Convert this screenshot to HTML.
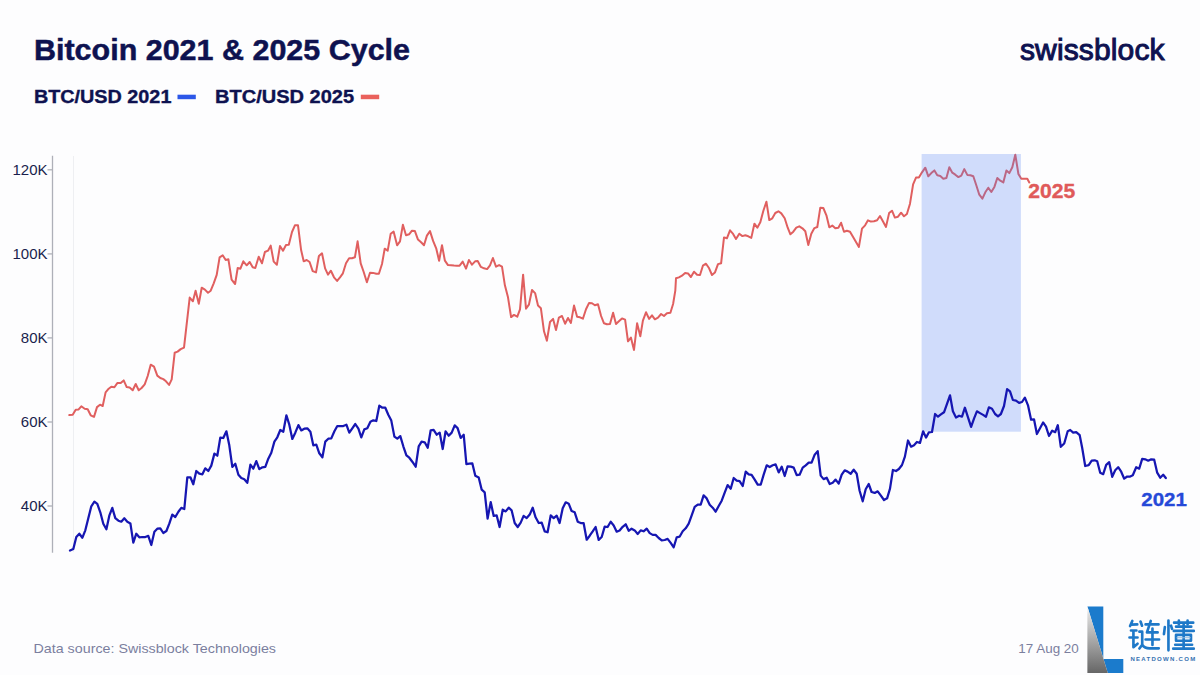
<!DOCTYPE html>
<html><head><meta charset="utf-8"><title>Bitcoin 2021 &amp; 2025 Cycle</title>
<style>
html,body{margin:0;padding:0;background:#fdfdfe;}
body{width:1200px;height:675px;overflow:hidden;position:relative;font-family:"Liberation Sans",sans-serif;}
svg{position:absolute;left:0;top:0;display:block;}
svg text{font-family:"Liberation Sans",sans-serif;}
.t{font-weight:bold;font-size:30px;fill:#0e1250;stroke:#0e1250;stroke-width:0.5px;}
.lg{font-weight:bold;font-size:18.3px;fill:#0e1250;stroke:#0e1250;stroke-width:0.35px;}
.ax{font-size:15px;fill:#1a1f4d;}
.ft{font-size:13px;fill:#7b7f9e;}
</style></head>
<body>
<svg width="1200" height="675" viewBox="0 0 1200 675">
  <!-- title -->
  <text class="t" x="34" y="60.3" textLength="376" lengthAdjust="spacingAndGlyphs">Bitcoin 2021 &amp; 2025 Cycle</text>
  <!-- logo -->
  <text x="1020" y="60" textLength="144.5" lengthAdjust="spacing" style="font-size:30px;fill:#0e1250;stroke:#0e1250;stroke-width:1px">swissblock</text>
  <!-- legend -->
  <text class="lg" x="33.9" y="103.3" textLength="137.5" lengthAdjust="spacingAndGlyphs">BTC/USD 2021</text>
  <rect x="177.5" y="94.7" width="18.3" height="4.5" fill="#2c57e8"/>
  <text class="lg" x="215.1" y="103.3" textLength="139" lengthAdjust="spacingAndGlyphs">BTC/USD 2025</text>
  <rect x="360.8" y="94.7" width="18.4" height="4.5" fill="#ea615c"/>

  <!-- axis -->
  <line x1="52.5" y1="155.8" x2="52.5" y2="552.7" stroke="#aeb0b8" stroke-width="1.3"/>
  <line x1="73.5" y1="156" x2="73.5" y2="552" stroke="#eeeff2" stroke-width="1"/>
  <g stroke="#aeb0b8" stroke-width="1.3">
    <line x1="47.5" y1="169.8" x2="52.5" y2="169.8"/>
    <line x1="47.5" y1="253.9" x2="52.5" y2="253.9"/>
    <line x1="47.5" y1="337.9" x2="52.5" y2="337.9"/>
    <line x1="47.5" y1="422" x2="52.5" y2="422"/>
    <line x1="47.5" y1="506" x2="52.5" y2="506"/>
  </g>
  <g class="ax" text-anchor="end">
    <text x="47.5" y="175.1">120K</text>
    <text x="47.5" y="259.2">100K</text>
    <text x="47.5" y="343.2">80K</text>
    <text x="47.5" y="427.3">60K</text>
    <text x="47.5" y="511.3">40K</text>
  </g>

  <!-- lines -->
  <polyline fill="none" stroke="#e05f5f" stroke-width="2" stroke-linejoin="round" stroke-linecap="round" points="69.3,415.1 72.7,414.8 75.7,409.7 78.4,409.6 81.3,406.3 84.7,408.7 87.7,409.3 90.7,415.3 94,416.9 97,407.1 100,404.7 102.7,406 105.6,392.4 108.7,388.7 111.3,386.7 114.4,387.3 117.3,383.1 120.7,383.1 123.7,380.4 126.7,387.1 129.6,387.6 132.7,390.3 135.7,384 138.7,390.3 141.6,388 144.7,384.4 147.7,376 150.7,364.7 154,366.7 157.3,375.6 160.3,378 163.3,379.1 166,381.3 169.1,384.9 171.7,379.3 174.7,352.7 177.6,351.6 180.7,349.1 184,347.6 189.7,297.6 192.9,301.3 195.6,290.7 198.8,303.7 201.7,287.7 204.9,289.6 208,292.7 210.7,290.7 213.7,283.3 216.7,274.9 219.6,257.3 222.7,255.3 225.7,260 228.4,259.3 231.6,279.7 235.1,284 237.7,268 240.4,268.7 243.3,261.3 246.7,265.3 249.7,262 252.7,267.3 255.3,268 258.7,256.7 262,263.3 264.9,252 268,250.7 270.7,245.6 273.7,261.6 276.9,264.7 280,246 283,250.7 286,245 288.8,244.8 292,232 294.9,225.3 298,225.3 301.1,250 303.7,261.3 306.7,260 309.6,262 312.7,271.1 316,272.4 318.9,256 322,253.3 325.1,268.4 328,274.7 330.9,270.7 334,277.3 337.1,280.9 340,277.3 342.9,273.3 346,263.3 349.1,258.3 352,258.3 354.9,257.3 357.6,241.3 360.7,263.3 363.7,272 366.9,282.3 370,272.7 373.1,272.9 376.3,273.7 378.9,273.7 382,264 384.7,248.7 387.7,250.7 390.7,233.7 393.6,231.6 397.1,245.3 400,241.3 402.9,224.7 406,235.3 409.1,234.3 412,230.7 414.9,231.1 418,239.6 421.1,242.3 424,245.3 426.9,235.6 430,231.1 433.1,240.9 436.3,248.7 439.1,260.7 442,245.3 444.9,260.7 448,265.1 451.1,265.3 454,265.6 456.7,265.7 459.6,265.7 462.7,261.6 466,268.7 468.9,260 472,264.7 475.1,261.3 477.7,261.1 480.9,266.9 484,268.3 487.1,269.1 490,265.3 492.9,258 496,266.7 499.1,265.1 502,266.7 504.9,285.3 508,297.3 511.1,317.1 514,314.9 517.3,316.7 520,309.3 523.1,274.7 526,308.7 528.9,304.7 532,290 535.1,293.1 538,305.6 540.9,308.3 544,331.3 546.9,340.7 550,322 553.1,318.9 556,330 558.9,317.6 562,316 565.1,323.7 568,318 570.9,322.9 574,305.6 577.1,316.7 580,317.3 582.9,318.7 586,309.3 589.1,302.9 592,303.3 594.9,305.3 598,304.3 601.1,316 604,323.3 606.9,324.3 610,324 613.1,312.7 616,324 618.9,321.3 622,318.4 625.1,319.7 628,341.3 630.9,337.6 634,350 637.1,323.3 640.3,336.3 642.9,320.7 646,312.3 649.1,318.9 652,315.3 654.9,319.3 658,317.6 661.1,314 664,316 666.9,313.3 670.4,312.7 673.1,304 675.3,290.7 676,278.3 678.9,277.4 682,275.7 685.1,273 688,273.4 690.9,277 694,271.7 697.1,274.7 700,275 702.9,265.7 706,263.7 709.1,268.3 712,275 714.9,272.6 718,264.1 721.1,263.3 724,237.4 726.9,238.3 730,230.3 733.1,233.9 736,239 739.3,233.7 742.4,236.1 745.3,235.3 748.3,236.3 751.3,237.9 754.4,223.7 757.3,227.7 760.3,222.3 763.3,211 766.4,201.7 769.3,220.1 772.3,218.3 775.3,213 778.4,211.3 781.3,213.4 784.7,218.3 787.7,227.7 790.4,234.3 793.3,231.7 796.3,227.7 799.3,226.3 802.4,228.3 805.3,231.3 808.3,245 811.3,233.7 814.4,228.1 817.3,227 820.3,207.7 823.3,208 826.4,215.3 829.3,227.3 832.3,225.6 835.3,228.3 838.4,227.7 841.1,222.7 844,231.7 846.9,230.7 850,231.7 853.1,237.1 856,242 858.9,246.9 862,228.7 865.1,225.3 868,220.3 870.9,221.6 874,221.3 877.1,220.3 880,216 882.9,221.3 886,226.9 889.1,213.1 892,210.7 894.9,217.6 898,216.7 901.1,212.7 904,216.3 906.9,214 910,203.7 913.1,184.3 916,177.6 918.9,177.6 922,172.3 925.3,167.7 928.3,176.3 931.3,173.1 934.4,170.4 937.3,175.3 940.3,176 943.3,178.7 946.4,178 949.3,167.3 952.3,172.7 955.3,174.7 958.4,177.1 961.3,175.7 964.3,169.1 967.3,174.9 970.4,175.3 973.3,176.3 976.3,185.3 979.3,194.7 982.4,198.7 985.3,192.3 988.3,187.7 991.3,192 994.4,186.9 997.3,178 1000.3,180.7 1003.3,182.4 1006.4,170.4 1009.3,173.1 1012.3,167.3 1015.3,154.7 1018.4,174 1021.3,178.7 1024.3,178.7 1027.3,178.7 1029.3,182.4"/>
  <rect x="921.6" y="154" width="99.3" height="277.7" fill="#5080f5" fill-opacity="0.26"/>
  <polyline fill="none" stroke="#1616b2" stroke-width="2.25" stroke-linejoin="round" stroke-linecap="round" points="70,550.6 73.3,549 76.3,537 79.3,533.7 82.4,537.7 85.3,530.3 88.3,518.3 91.3,506.3 94.4,501.7 97.3,503.9 100.3,512.3 103.3,523.7 106.4,529.3 109.3,515.7 112.3,507.9 115.3,518.1 118.4,520.7 121.3,521.7 124.3,518.3 127.3,521.7 130.4,523.4 133.3,542.6 136.3,533.7 139.3,537.3 142.4,537 145.3,537 148.3,535.9 151.3,545 154.4,531.7 157.3,528.7 160.3,528.3 163.3,533 166.4,531 169.3,523.7 172.3,514.6 175.3,517 178.4,511.7 181.3,507.9 184.3,509 187.3,477.3 190.4,477.3 193.3,484.3 196.3,471 199.3,473.7 202.4,474.3 205.3,468.3 208.3,471 211.3,465.6 214.4,453.6 217.3,455.7 220.3,437.6 223.3,438 226.4,431.3 229.3,445.3 232.3,466.9 235.3,463.7 238.4,474.7 241.3,478 244.3,479.3 247.3,482.9 250.4,464.7 253.3,468.7 256.3,461.1 259.3,469.1 262.4,467.3 265.3,466.9 268.3,458.7 271.3,452.7 274.4,441.6 277.3,437.3 280.3,430 283.3,431.7 286.4,415.3 289.3,424.7 292.3,438.9 295.3,432.7 298.4,425.1 301.3,430.4 304.3,428.7 307.3,428.3 310.4,431.7 313.3,445.3 316.3,444.7 319.3,453.3 322.4,457.3 325.3,441.6 328.3,438.7 331.3,438.4 334.4,431.3 337.3,426 340.3,426 343.3,426 346.4,424.7 349.3,432.7 352.3,428.3 355.3,424 358.4,428.7 361.3,437.4 364.3,429.4 367.3,428.3 370.4,421.7 373.3,420.3 376.3,421 379.3,405.7 382.4,407.7 385.3,407.7 388.3,414.7 391.3,420.6 394.4,436.6 397.3,438.7 400.3,436.1 403.3,446.3 406.4,455.3 409.3,457.7 412.3,461.7 415.7,466.7 418.7,446.3 421.6,441.7 424.7,442.3 427.7,447.7 430.7,430.3 433.6,429.9 436.7,434.7 439.7,432.6 442.7,449 445.6,431.3 448.7,435.7 451.7,432.6 454.7,425.4 457.6,428.1 460.7,437.9 463.7,434.7 466.4,464.1 469.3,463.7 472.3,463.3 475.3,475.7 478.7,477.4 481.7,489.7 484.7,492.3 487.6,518.6 490.7,502.1 493.7,515.9 496.7,515.4 499.6,527 502.7,509.7 505.7,511.4 508.7,507.7 511.6,510.3 514.7,523 517.7,527 520.7,522.6 523.6,515.9 526.7,518.1 529.7,514.6 532.7,507.7 535.6,517.3 538.7,523 541.7,522.6 544.7,531.4 547.6,532.3 550.7,515.4 553.7,518.1 556.7,515.7 559.6,523 562.7,508.3 565.7,502.3 568.7,503.7 571.6,511 574.7,512.3 577.7,521.7 580.7,523 583.6,523 586.7,539.7 589.7,535.7 592.7,531.4 595.6,527 598.7,539.9 601.7,537 604.7,526.6 607.6,527 610.7,521.7 613.7,525.5 616.7,531.7 619.6,530.5 622.7,526.8 625.7,524.3 628.7,530.8 631.6,528.7 634.7,530.4 637.7,534 640.7,530.4 643.6,531.3 646.7,528.7 649.7,533.1 652.7,534.9 655.6,534.9 658.7,538 661.7,540.3 664.7,540 667.6,538.9 670.7,542.9 673.7,547.3 676.7,537.3 679.6,536.7 682.7,531.3 685.7,528.3 688.7,523.7 691.6,515.7 694.7,506.9 697.7,504.7 700.7,504.7 703.6,495.3 706.7,498.4 709.7,504.7 712.7,507.7 715.6,511.7 718.7,506 721.7,500.7 724.7,492.7 727.6,485.1 730.7,488.7 733.7,478 736.7,480.7 739.6,481.1 742.7,486 745.7,471.7 748.7,474.4 751.6,474.9 754.7,479.7 757.7,484.7 760.7,484.7 763.6,474.9 766.7,465.3 769.7,467 772.7,465.3 775.6,464.4 778.7,472.4 781.7,466.7 784.7,476 787.6,466.3 790.7,466.7 793.7,467.6 796.7,475.1 799.6,474.7 802.7,467.6 805.7,465.3 808.7,462.7 811.6,462.7 814.7,454.7 817.7,451.1 820.7,475.6 823.6,479.1 826.7,477.7 829.7,484 832.7,482.7 835.6,479.6 838.7,483.6 841.7,474.7 844.7,470.3 847.6,471.6 850.7,473.7 853.7,469.7 856.7,473.7 859.6,490.7 862.7,501.3 865.7,489.3 868.7,484 871.6,492 874.7,492.9 877.7,491.3 880.7,495.3 884,500 887.1,498.3 890,488.7 892.9,470 896,471 898.9,469 902,465 904.9,456.6 908,440.5 911.1,446.7 914,445.3 916.9,442 920,442.9 923.1,431.3 926,437.6 928.9,432.3 932,432 935.1,414 938,416.7 940.9,414.4 944,412.3 947.1,403.7 950,395.3 952.9,411.3 956,417.6 959.1,415.7 962,416.7 964.9,407.7 968,417.3 971.1,426.9 974,418.7 976.9,411.3 980,413.1 983.1,414.9 986,416.7 988.9,407.3 992,408.7 995.1,414 998,416.3 1000.9,414 1004,406 1007.1,389.1 1010,391.3 1012.9,400 1016,400.7 1019.1,402.9 1022,402 1024.9,397.6 1028,405.3 1031.1,419.7 1034,419.3 1036.9,434 1040,428.3 1043.1,422.4 1046,426.7 1049,436 1052.2,430.7 1055.2,432.2 1057.8,425.2 1060.8,446.8 1064.2,443.5 1067.7,431.2 1070.2,430 1073.2,432.7 1076.2,432.2 1079.7,435.2 1082.2,448 1085.2,466 1088.7,465.2 1091.7,460.7 1094.7,460.3 1097.2,461.2 1100.2,472.7 1103.2,474.2 1106.2,464.8 1109.2,462.2 1112.2,476.8 1115.2,470.2 1118.2,467.2 1121.2,471.7 1124.2,478.7 1127.2,476.5 1130.2,476.5 1132.8,475.3 1136.2,467.2 1139.2,468.7 1142.2,458.8 1145.2,459.3 1148.2,460.7 1151.2,459.3 1154.2,459.7 1157.2,472.7 1160.2,477.7 1163.2,474.7 1165.8,478"/>

  <text x="1028.3" y="198" textLength="47" lengthAdjust="spacingAndGlyphs" style="font-weight:bold;font-size:19.5px;fill:#e05a5a;stroke:#e05a5a;stroke-width:0.35px">2025</text>
  <text x="1141.3" y="506" textLength="45.6" lengthAdjust="spacingAndGlyphs" style="font-weight:bold;font-size:18.5px;fill:#2549d8;stroke:#2549d8;stroke-width:0.35px">2021</text>

  <!-- footer -->
  <text class="ft" x="33.5" y="652.7" textLength="242.5" lengthAdjust="spacingAndGlyphs">Data source: Swissblock Technologies</text>
  <text x="1018.3" y="653" textLength="60.5" lengthAdjust="spacingAndGlyphs" style="font-size:13px;fill:#7b7f9e;">17 Aug 20</text>

  <!-- watermark -->
    <defs>
    <linearGradient id="gg" x1="0" y1="0" x2="0" y2="1">
      <stop offset="0" stop-color="#ffffff"/>
      <stop offset="0.12" stop-color="#dcdcdc"/>
      <stop offset="1" stop-color="#666666"/>
    </linearGradient>
  </defs>
  <polygon points="1087.4,606.4 1103.3,606.4 1103.3,658.9 1123.3,658.9 1123.3,673.1 1107.8,673.1" fill="#1b7bcc"/>
  <polygon points="1087.4,606.4 1107.8,673.1 1087.4,673.1" fill="url(#gg)"/>
  <g fill="none" stroke="#1e78c8" stroke-width="47" stroke-linecap="round" stroke-linejoin="round" transform="translate(1126,616) scale(0.0563)">
    <path d="M112,88 L72,178 M92,152 L200,150 M88,258 L185,258 M62,382 L205,382 M132,262 L132,555 L205,492"/>
    <path d="M258,98 L285,172 M238,278 L288,278 L288,512 L238,578 M292,515 Q330,575 420,575 L582,575"/>
    <path d="M348,150 L578,150 M440,88 L372,292 L562,292 M470,222 L470,515 M348,418 L588,418"/>
  </g>
  <g fill="none" stroke="#1e78c8" stroke-width="47" stroke-linecap="round" stroke-linejoin="round" transform="translate(1160,616) scale(0.0563)">
    <path d="M150,82 L150,610 M86,198 L70,322 M196,172 L214,228"/>
    <path d="M250,118 L590,118 M335,82 L335,150 M490,82 L490,150"/>
    <path d="M285,190 L555,190 M245,265 L600,265 M285,335 L550,335 L550,440 L285,440 Z M420,150 L420,580 M270,510 L570,510 M235,580 L600,580"/>
    <path d="M300,386 L540,386" stroke-width="18" stroke="#8fb8e0"/>
  </g>
  <text x="1130.4" y="660.6" textLength="64.8" lengthAdjust="spacing" style="font-weight:bold;font-size:6px;fill:#3570b0;">NEATDOWN.COM</text>
</svg>
</body></html>
